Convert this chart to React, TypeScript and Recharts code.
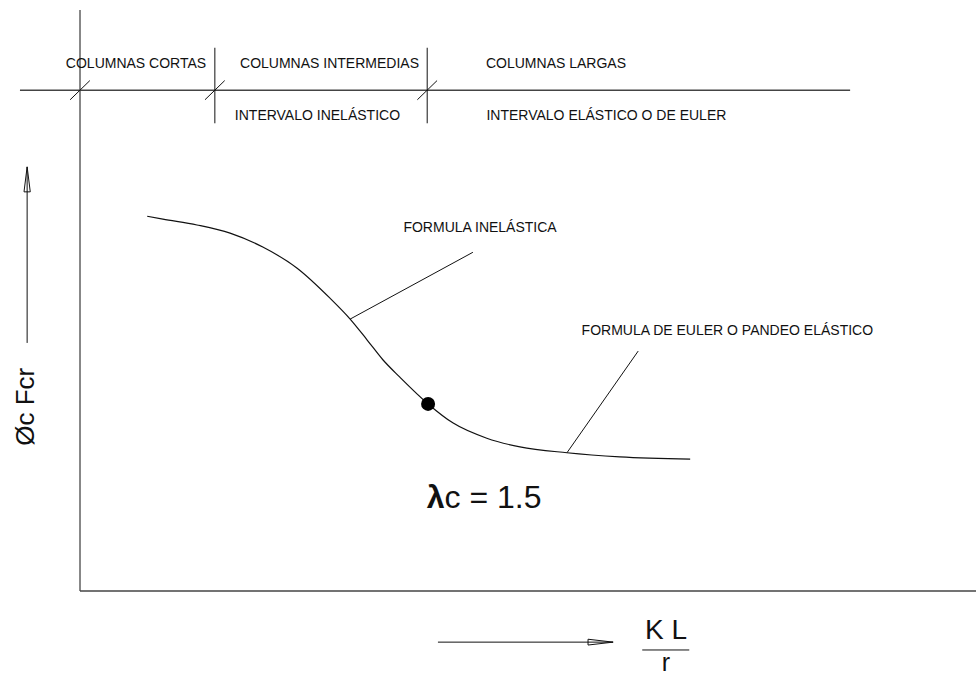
import React from 'react'
import { ComposedChart, Line, XAxis, YAxis, ReferenceLine, ReferenceDot } from 'recharts'

// curva de resistencia: KL/r contra Øc Fcr
const kLr = [15, 18.5, 26.1, 33.5, 40.8, 48.4, 55.8, 60.3, 64.1, 67.6, 71.4, 77.7, 83.3, 90.8, 98.2, 108.7, 120.5, 136.2]
const phiFcr = [64.5, 64.0, 63.0, 61.6, 59.2, 55.6, 50.4, 46.8, 43.2, 39.8, 36.8, 32.2, 28.9, 26.3, 24.8, 23.8, 23.1, 22.7]

// punto lambda c = 1.5
const lambdaPoint = { x: 77.7, y: 32.2 }

// franja superior de zonas
const headerY = 86.2
const headerFrom = -13.4
const headerTo = 171.9
const zoneLimits = [0, 30.1, 77.5]
const separators = [30.1, 77.5]
const sepTop = 93.5
const sepBottom = 80.5

const zoneLabels = ['COLUMNAS CORTAS', 'COLUMNAS INTERMEDIAS', 'COLUMNAS LARGAS']
const zoneLabelX = [12.5, 55.7, 106.25]
const zoneLabelY = 90.9
const rangeLabels = ['INTERVALO INELÁSTICO', 'INTERVALO ELÁSTICO O DE EULER']
const rangeLabelX = [53.0, 117.5]
const rangeLabelY = 81.9

// notas con línea de referencia
const formulaLabels = ['FORMULA INELÁSTICA', 'FORMULA DE EULER O PANDEO ELÁSTICO']
const formulaLabelX = [89.3, 144.5]
const formulaLabelY = [62.65, 44.9]
const leaderFrom = [{ x: 60.3, y: 46.8 }, { x: 108.7, y: 23.8 }]
const leaderTo = [{ x: 87.7, y: 58.3 }, { x: 124.6, y: 41.3 }]

// flechas de los ejes
const upArrowX = -11.8
const upArrowFrom = 42.7
const upArrowTo = 73.0
const rightArrowY = -8.8
const rightArrowFrom = 79.9
const rightArrowTo = 119.0

const data = kLr.map((x, i) => ({ x, y: phiFcr[i] }))

const FONT = '"Liberation Sans", Arial, sans-serif'
const INK = '#111'

const seg = (a: { x: number; y: number }, b: { x: number; y: number }, key: string, width = 1) => (
  <ReferenceLine key={key} segment={[a, b]} stroke={INK} strokeWidth={width} ifOverflow="visible" />
)

const textAt = (x: number, y: number, value: string, key: string, size = 14, angle = 0) => (
  <ReferenceDot
    key={key}
    x={x}
    y={y}
    r={0}
    fill="none"
    stroke="none"
    ifOverflow="visible"
    label={{ value, position: 'center', fontSize: size, fill: INK, fontFamily: FONT, angle }}
  />
)

export default function App() {
  const headW = 0.7 // semiancho de la punta (flecha vertical)
  const headH = 0.5
  return (
    <div style={{ width: 976, height: 675, background: '#fff' }}>
      <style>{'body{margin:0}'}</style>
      <ComposedChart width={976} height={675} data={data} margin={{ top: 10, right: 0, left: 80, bottom: 84 }}>
        <XAxis dataKey="x" type="number" domain={[0, 200]} hide />
        <YAxis type="number" domain={[0, 100]} hide />

        {/* ejes */}
        <ReferenceLine x={0} stroke={INK} strokeWidth={1} ifOverflow="visible" />
        <ReferenceLine y={0} stroke="#444" strokeWidth={1.5} ifOverflow="visible" />

        {/* franja de zonas */}
        <ReferenceLine
          segment={[{ x: headerFrom, y: headerY }, { x: headerTo, y: headerY }]}
          stroke="#444"
          strokeWidth={1.5}
          ifOverflow="visible"
        />
        {separators.map((s, i) => seg({ x: s, y: sepTop }, { x: s, y: sepBottom }, 'sep' + i))}
        {zoneLimits.map((z, i) => seg({ x: z - 2.2, y: headerY - 1.65 }, { x: z + 2.2, y: headerY + 1.65 }, 'lim' + i))}
        {zoneLabels.map((t, i) => textAt(zoneLabelX[i], zoneLabelY, t, 'zl' + i))}
        {rangeLabels.map((t, i) => textAt(rangeLabelX[i], rangeLabelY, t, 'rl' + i))}

        {/* curva */}
        <Line type="monotone" dataKey="y" stroke={INK} strokeWidth={1.2} dot={false} isAnimationActive={false} />
        <ReferenceDot x={lambdaPoint.x} y={lambdaPoint.y} r={7} fill="#000" stroke="none" />

        {/* notas */}
        {leaderFrom.map((p, i) => seg(p, leaderTo[i], 'ld' + i))}
        {formulaLabels.map((t, i) => textAt(formulaLabelX[i], formulaLabelY[i], t, 'fl' + i))}
        <ReferenceDot
          x={90.2}
          y={16.2}
          r={0}
          fill="none"
          stroke="none"
          label={{
            position: 'center',
            content: (props: any) => {
              const vb = props.viewBox || {}
              return (
                <text x={vb.x} y={vb.y} dy={11} textAnchor="middle" fontFamily={FONT} fontSize={32} fill={INK}>
                  <tspan fontWeight="bold">λ</tspan>c = 1.5
                </text>
              )
            },
          }}
        />

        {/* flecha vertical y rótulo del eje */}
        {seg({ x: upArrowX, y: upArrowFrom }, { x: upArrowX, y: upArrowTo }, 'ua')}
        {seg({ x: upArrowX - headW, y: upArrowTo - 4.3 }, { x: upArrowX, y: upArrowTo }, 'ua1')}
        {seg({ x: upArrowX + headW, y: upArrowTo - 4.3 }, { x: upArrowX, y: upArrowTo }, 'ua2')}
        {seg({ x: upArrowX - headW, y: upArrowTo - 4.3 }, { x: upArrowX + headW, y: upArrowTo - 4.3 }, 'ua3')}
        {textAt(-12.4, 31.7, 'Øc Fcr', 'ylab', 26, -90)}

        {/* flecha horizontal y KL/r */}
        {seg({ x: rightArrowFrom, y: rightArrowY }, { x: rightArrowTo, y: rightArrowY }, 'ra')}
        {seg({ x: rightArrowTo - 5.6, y: rightArrowY + headH }, { x: rightArrowTo, y: rightArrowY }, 'ra1')}
        {seg({ x: rightArrowTo - 5.6, y: rightArrowY - headH }, { x: rightArrowTo, y: rightArrowY }, 'ra2')}
        {seg({ x: rightArrowTo - 5.6, y: rightArrowY - headH }, { x: rightArrowTo - 5.6, y: rightArrowY + headH }, 'ra3')}
        {textAt(130.8, -6.6, 'K L', 'kl', 28)}
        {seg({ x: 125.5, y: -10.15 }, { x: 136.0, y: -10.15 }, 'frac')}
        {textAt(130.8, -12.3, 'r', 'r', 25)}
      </ComposedChart>
    </div>
  )
}
